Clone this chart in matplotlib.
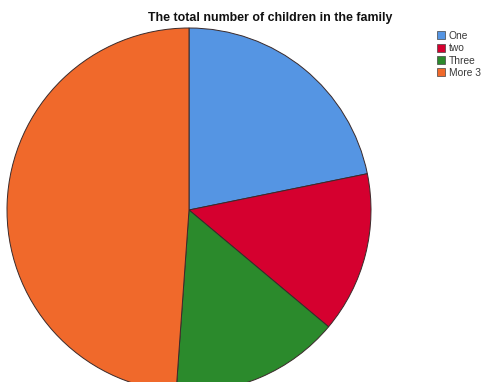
import matplotlib
matplotlib.use("Agg")
import matplotlib.pyplot as plt
from matplotlib.patches import Patch

labels = ["One", "two", "Three", "More 3"]
counts = [29, 19, 20, 65]
colors = ["#5595E3", "#D5002F", "#2B8A2C", "#F0692B"]

plt.rcParams['font.family'] = ['Liberation Sans', 'DejaVu Sans']


def draw_pie():
    fig = plt.figure(figsize=(4.85, 3.82), dpi=100)
    ax = fig.add_axes([0, 0, 1, 1])

    ax.pie(counts, colors=colors, startangle=90, counterclock=False,
           center=(189, 172), radius=182, frame=True,
           wedgeprops=dict(edgecolor="#3a2a2a", linewidth=0.7))
    ax.set_xlim(0, 485)
    ax.set_ylim(0, 382)
    ax.set_aspect("equal")
    ax.axis("off")

    fig.text(148, 382 - 21, "The total number of children in the family",
             transform=None, ha="left", va="baseline",
             fontsize=8.9, fontweight="bold", color="#111111")

    handles = [Patch(facecolor=c, edgecolor="#444444", linewidth=0.5)
               for c in colors]
    leg = fig.legend(handles, labels, loc="upper left",
                     bbox_to_anchor=(437 / 485, 1 - 31 / 382),
                     frameon=False, fontsize=7.4, handlelength=0.8,
                     handleheight=0.8, handletextpad=0.35,
                     labelspacing=0.22, borderaxespad=0, borderpad=0)
    for t in leg.get_texts():
        t.set_color("#3a3a3a")

    fig.savefig("out.png", dpi=100)


def main():
    draw_pie()


if __name__ == "__main__":
    main()
